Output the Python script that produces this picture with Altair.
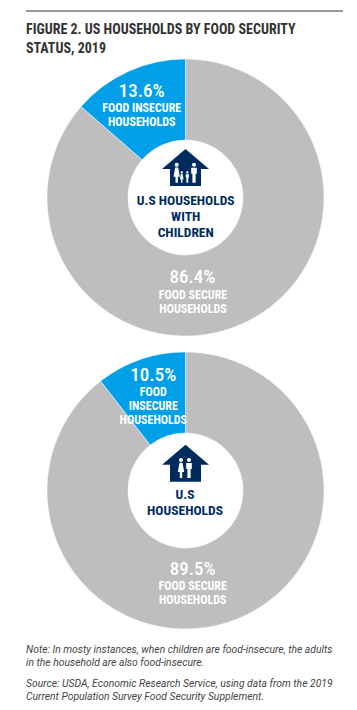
import altair as alt
import pandas as pd

TOP = ["Food secure", "Food insecure"]
VALUES_CHILDREN = [86.4, 13.6]
VALUES_ALL = [89.5, 10.5]
COLORS = ["#BEBEBE", "#009FE8"]
TITLE_LINES = ["FIGURE 2. US HOUSEHOLDS BY FOOD SECURITY", "STATUS, 2019"]
NOTE_LINES = ["Note: In mosty instances, when children are food-insecure, the adults",
              "in the household are also food-insecure."]
SOURCE_LINES = ["Source: USDA, Economic Research Service, using data from the 2019",
                "Current Population Survey Food Security Supplement."]

NAVY = "#002B5F"
DARK = "#333333"
NOTE = "#444444"
CX = 177.5
CY1 = 189.5
CY2 = 482.5
R = 138.5
R0 = 57.5
NARROW = "Roboto Condensed"

HOUSE = "M0,-0.79 L1,0.06 L0.66,0.06 L0.66,0.79 L-0.66,0.79 L-0.66,0.06 L-1,0.06 Z"
HEAD = "M-0.2,-0.8 A0.2,0.2 0 1 1 0.2,-0.8 A0.2,0.2 0 1 1 -0.2,-0.8 Z "
WOMAN = HEAD + "M-0.15,-0.52 L0.15,-0.52 L0.32,0.4 L0.12,0.4 L0.12,1 L-0.12,1 L-0.12,0.4 L-0.32,0.4 Z"
MAN = HEAD + "M-0.28,-0.5 L0.28,-0.5 L0.28,0.1 L0.16,0.1 L0.16,1 L-0.16,1 L-0.16,0.1 L-0.28,0.1 Z"


def pie(values, cy):
    df = pd.DataFrame({"status": TOP, "value": values, "k": [0, 1]})
    return alt.Chart(df).mark_arc(radius=R, radius2=R0, stroke="white", strokeWidth=0.5).encode(
        theta=alt.Theta("value:Q", stack=True, scale=alt.Scale(domain=[0, 100], range=[0, 6.28318530718])),
        order=alt.Order("k:Q"),
        color=alt.Color("status:N", scale=alt.Scale(domain=TOP, range=COLORS), legend=None),
        x=alt.value(CX),
        y=alt.value(cy),
    )


def label(s, x, y, size, color, weight="bold", font=NARROW, align="center", italic=False):
    kw = dict(font=font, fontSize=size, color=color, align=align, baseline="alphabetic", limit=0)
    if weight:
        kw["fontWeight"] = weight
    if italic:
        kw["fontStyle"] = "italic"
    return alt.Chart(pd.DataFrame({"t": [s]})).mark_text(**kw).encode(
        text="t:N", x=alt.value(x), y=alt.value(y))


def icon(path, x, y, side, color):
    return alt.Chart(pd.DataFrame({"a": [1]})).mark_point(
        shape=path, size=side * side, filled=True, fill=color, opacity=1, strokeWidth=0
    ).encode(x=alt.value(x), y=alt.value(y))


layers = [
    alt.Chart(pd.DataFrame({"a": [1]})).mark_rule(color=DARK, strokeWidth=1).encode(
        x=alt.value(18), x2=alt.value(335), y=alt.value(3)),
    label(TITLE_LINES[0], 18, 25.5, 14, DARK, align="left"),
    label(TITLE_LINES[1], 18, 44.7, 14, DARK, align="left"),
    pie(VALUES_CHILDREN, CY1),
    pie(VALUES_ALL, CY2),
]

# top donut labels
layers += [
    label("13.6%", 133.7, 88.7, 19, "white", weight=500),
    label("FOOD INSECURE", 133.7, 103.7, 12, "white"),
    label("HOUSEHOLDS", 133.7, 117.7, 12, "white"),
    label("86.4%", 184.5, 275.3, 19, "white", weight=500),
    label("FOOD SECURE", 185, 291, 12, "white"),
    label("HOUSEHOLDS", 185, 305, 12, "white"),
    icon(HOUSE, CX, 159.5, 47, NAVY),
    icon(WOMAN, 168.7, 164.7, 20, "white"),
    icon(MAN, 186, 164.7, 20, "white"),
    icon(WOMAN, 173.7, 169, 11.4, "white"),
    icon(MAN, 179.3, 169, 11.4, "white"),
    label("U.S HOUSEHOLDS", 177.7, 196.7, 13.5, NAVY),
    label("WITH", 177.7, 213, 13.5, NAVY),
    label("CHILDREN", 177.7, 228.7, 13.5, NAVY),
]

# bottom donut labels
layers += [
    label("10.5%", 145.3, 372.5, 19, "white", weight=500),
    label("FOOD", 145.3, 387.5, 12, "white"),
    label("INSECURE", 145.3, 401.5, 12, "white"),
    label("HOUSEHOLDS", 145.3, 416, 12, "white"),
    label("89.5%", 184.7, 567, 19, "white", weight=500),
    label("FOOD SECURE", 184.7, 582, 12, "white"),
    label("HOUSEHOLDS", 184.7, 596, 12, "white"),
    icon(HOUSE, CX, 455.3, 47, NAVY),
    icon(WOMAN, 173, 460, 20, "white"),
    icon(MAN, 181, 460, 20, "white"),
    label("U.S", 177, 491, 13.5, NAVY),
    label("HOUSEHOLDS", 177, 506.7, 13.5, NAVY),
]

# notes
layers += [
    label(NOTE_LINES[0], 18, 644.7, 10.35, NOTE, weight=None, font="Roboto", align="left", italic=True),
    label(NOTE_LINES[1], 18, 657.7, 10.35, NOTE, weight=None, font="Roboto", align="left", italic=True),
    label(SOURCE_LINES[0], 18, 678.7, 10.35, NOTE, weight=None, font="Roboto", align="left", italic=True),
    label(SOURCE_LINES[1], 18, 692, 10.35, NOTE, weight=None, font="Roboto", align="left", italic=True),
]

chart = alt.layer(*layers).properties(
    width=341, height=694, padding=0, autosize=alt.AutoSizeParams(type="none")
).configure_view(stroke=None)

chart.save("out.html", embed_options={"renderer": "svg", "actions": False})
